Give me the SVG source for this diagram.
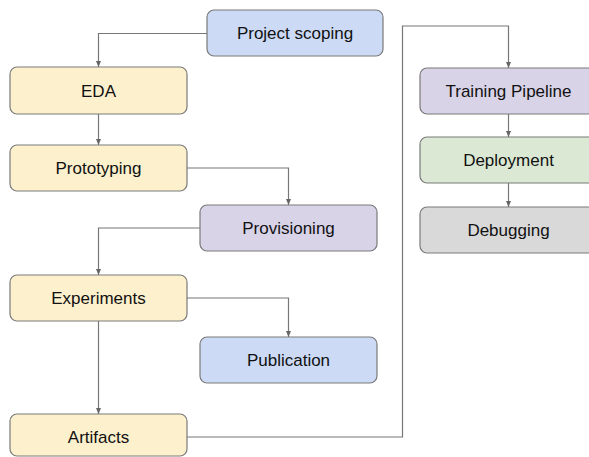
<svg xmlns="http://www.w3.org/2000/svg" width="589" height="457" viewBox="0 0 589 457">
<style>
.box{stroke:#7a7a7a;stroke-width:1.2}
.blue{fill:#ccdaf6}
.yellow{fill:#fcf0cd}
.purple{fill:#d9d3e8}
.green{fill:#dbe9d4}
.grey{fill:#d9d9d9}
text{font-family:"Liberation Sans",Arial,sans-serif;font-size:17px;fill:#111;text-anchor:middle;dominant-baseline:central}
.conn{fill:none;stroke:#777;stroke-width:1.2}
</style>
<defs>
<marker id="arr" viewBox="0 0 6 6" refX="6" refY="3" markerWidth="6" markerHeight="6" markerUnits="userSpaceOnUse" orient="auto">
<path d="M0,0.5 L6,3 L0,5.5 Z" fill="#666"/>
</marker>
</defs>
<g id="connectors">
<path class="conn" d="M207,33.5 H98.5 V67" marker-end="url(#arr)"/>
<path class="conn" d="M98.5,114 V145" marker-end="url(#arr)"/>
<path class="conn" d="M187,168 H288.5 V205" marker-end="url(#arr)"/>
<path class="conn" d="M200,228 H98.5 V275" marker-end="url(#arr)"/>
<path class="conn" d="M187,298 H288.5 V337" marker-end="url(#arr)"/>
<path class="conn" d="M98.5,321 V414" marker-end="url(#arr)"/>
<path class="conn" d="M187,437 H402.5 V26 H508.5 V68" marker-end="url(#arr)"/>
<path class="conn" d="M508.5,114 V137" marker-end="url(#arr)"/>
<path class="conn" d="M508.5,183 V207" marker-end="url(#arr)"/>
</g>
<g id="project-scoping"><rect class="box blue" x="207" y="10" width="176" height="46" rx="7"/><text x="295" y="33.5">Project scoping</text></g>
<g id="eda"><rect class="box yellow" x="10" y="67" width="177" height="47" rx="7"/><text x="98.5" y="91">EDA</text></g>
<g id="prototyping"><rect class="box yellow" x="10" y="145" width="177" height="46" rx="7"/><text x="98.5" y="168">Prototyping</text></g>
<g id="provisioning"><rect class="box purple" x="200" y="205" width="177" height="46" rx="7"/><text x="288.5" y="228">Provisioning</text></g>
<g id="experiments"><rect class="box yellow" x="10" y="275" width="177" height="46" rx="7"/><text x="98.5" y="298">Experiments</text></g>
<g id="publication"><rect class="box blue" x="200" y="337" width="177" height="46" rx="7"/><text x="288.5" y="360">Publication</text></g>
<g id="artifacts"><rect class="box yellow" x="10" y="414" width="177" height="42" rx="7"/><text x="98.5" y="437">Artifacts</text></g>
<g id="training-pipeline"><rect class="box purple" x="420" y="68" width="177" height="46" rx="7"/><text x="508.5" y="91">Training Pipeline</text></g>
<g id="deployment"><rect class="box green" x="420" y="137" width="177" height="46" rx="7"/><text x="508.5" y="160">Deployment</text></g>
<g id="debugging"><rect class="box grey" x="420" y="207" width="177" height="46" rx="7"/><text x="508.5" y="230">Debugging</text></g>
</svg>
